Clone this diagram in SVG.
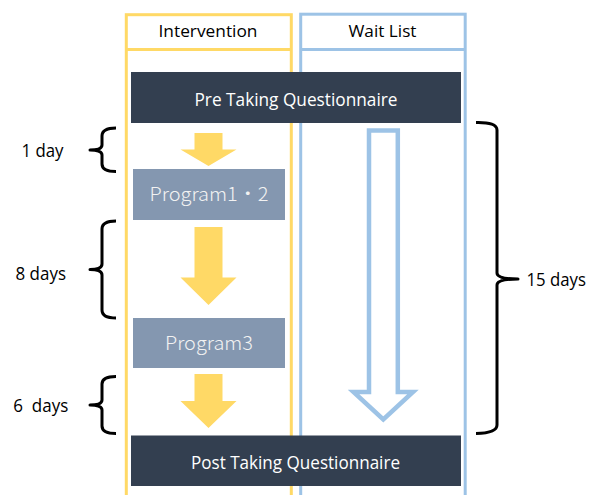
<svg xmlns="http://www.w3.org/2000/svg" width="590" height="495" viewBox="0 0 590 495">
<style>
.lane-i{fill:none;stroke:#FFD966;stroke-width:3}
.lane-w{fill:none;stroke:#9DC3E6;stroke-width:3}
.hdr{font-family:"Open Sans","Liberation Sans",sans-serif;font-size:17px;fill:#000;text-anchor:middle}
.dark{fill:#333F50}
.prog{fill:#8497B0}
.dtxt{font-family:"Open Sans","Liberation Sans",sans-serif;font-size:18px;fill:#FFFFFF;text-anchor:middle}
.ptxt{font-family:"Noto Sans CJK JP","Liberation Sans",sans-serif;font-weight:300;font-size:19px;fill:#F2F2F2;text-anchor:middle}
.yarrow{fill:#FFD966}
.barrow{fill:none;stroke:#9DC3E6;stroke-width:4.5;stroke-linejoin:miter}
.brace{fill:none;stroke:#000;stroke-width:3;stroke-linejoin:round}
.lbl{font-family:"Open Sans","Liberation Sans",sans-serif;font-size:17.5px;fill:#000}
</style>
<rect width="590" height="495" fill="#FFFFFF"/>
<g id="lane-intervention">
<rect class="lane-i" x="126.3" y="14.7" width="165" height="500"/>
<line class="lane-i" x1="126.3" y1="49.5" x2="291.3" y2="49.5"/>
<text class="hdr" x="208" y="37" textLength="99" lengthAdjust="spacingAndGlyphs">Intervention</text>
</g>
<g id="lane-waitlist">
<rect class="lane-w" x="300.7" y="14.2" width="164.5" height="500"/>
<line class="lane-w" x1="300.7" y1="49.5" x2="465.2" y2="49.5"/>
<text class="hdr" x="382.5" y="37" textLength="68" lengthAdjust="spacingAndGlyphs">Wait List</text>
</g>
<g id="connectors">
<polygon class="yarrow" points="194.5,133 222.5,133 222.5,149.5 236.5,149.5 208.5,166 180.5,149.5 194.5,149.5"/>
<polygon class="yarrow" points="194.5,227 222.5,227 222.5,277.5 236.5,277.5 208.5,305 180.5,277.5 194.5,277.5"/>
<polygon class="yarrow" points="194.5,374 222.5,374 222.5,401 236.5,401 208.5,428 180.5,401 194.5,401"/>
<polygon class="barrow" points="369,130.5 397.8,130.5 397.8,392 413,392 383.3,419.5 353.5,392 369,392"/>
</g>
<g id="node-pre">
<rect class="dark" x="131" y="72" width="330" height="51"/>
<text class="dtxt" x="296" y="106" textLength="203" lengthAdjust="spacingAndGlyphs">Pre Taking Questionnaire</text>
</g>
<g id="node-program12">
<rect class="prog" x="133" y="169" width="152" height="51"/>
<text class="ptxt" x="209" y="201" textLength="119" lengthAdjust="spacingAndGlyphs">Program1・2</text>
</g>
<g id="node-program3">
<rect class="prog" x="133" y="318" width="152" height="50"/>
<text class="ptxt" x="209" y="350" textLength="88" lengthAdjust="spacingAndGlyphs">Program3</text>
</g>
<g id="node-post">
<rect class="dark" x="131" y="435.5" width="330" height="50.5"/>
<text class="dtxt" x="295.5" y="468.5" textLength="209" lengthAdjust="spacingAndGlyphs">Post Taking Questionnaire</text>
</g>
<g id="brace-1day">
<path class="brace" d="M116,128 Q102,128 102,136 L102,145 Q102,150 90,150 Q102,150 102,155 L102,164 Q102,171.5 116,171.5"/>
<text class="lbl" x="21.5" y="157" textLength="42" lengthAdjust="spacingAndGlyphs">1 day</text>
</g>
<g id="brace-8days">
<path class="brace" d="M116,221 Q102,221 102,229 L102,264 Q102,269.5 90,269.5 Q102,269.5 102,275 L102,310 Q102,318 116,318"/>
<text class="lbl" x="15.5" y="280" textLength="50.5" lengthAdjust="spacingAndGlyphs">8 days</text>
</g>
<g id="brace-6days">
<path class="brace" d="M116,376.5 Q102,376.5 102,384 L102,400 Q102,405 90,405 Q102,405 102,410 L102,426 Q102,433.5 116,433.5"/>
<text class="lbl" x="13.3" y="411.5" textLength="55" lengthAdjust="spacingAndGlyphs" xml:space="preserve">6  days</text>
</g>
<g id="brace-15days">
<path class="brace" d="M476,122.5 Q497,122 497,130 L497,273 Q497,279 518,279 Q497,279 497,285 L497,425 Q497,433 476,433.5"/>
<text class="lbl" x="526.5" y="285.5" textLength="59.5" lengthAdjust="spacingAndGlyphs">15 days</text>
</g>
</svg>
